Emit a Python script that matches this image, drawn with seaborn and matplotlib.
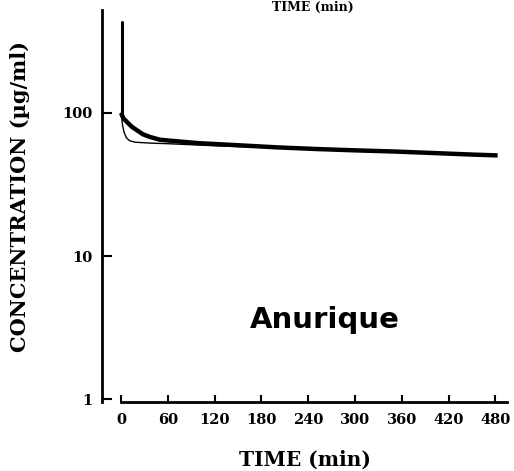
import numpy as np
import pandas as pd
import matplotlib
matplotlib.use("Agg")
import matplotlib.pyplot as plt
import seaborn as sns

# Data
thick_t = [0, 3, 8, 14, 20, 28, 37, 50, 70, 100, 150, 200, 250, 300, 350, 400, 450, 483]
thick_c = [100, 92, 86, 80, 76, 71, 68, 65, 63.5, 61.5, 59.5, 57.5, 56, 54.8, 53.8, 52.5, 51.2, 50.5]
thin_t = [0, 2, 4, 7, 11, 18, 28, 40, 60, 120, 240, 360, 480]
thin_c = [100, 82, 73, 67, 64, 62.5, 62, 61.5, 61, 59, 56, 53, 50]
spike_t = [1.5, 1.5]
spike_c = [100, 433]
x_ticks = [0, 60, 120, 180, 240, 300, 360, 420, 480]
x_tick_labels = ["0", "60", "120", "180", "240", "300", "360", "420", "480"]
y_ticks = [1, 10, 100]
y_tick_labels = ["1", "10", "100"]

sns.set_theme(style="ticks")
plt.rcParams["font.family"] = ["DejaVu Serif"]

fig = plt.figure(figsize=(5.14, 4.71), dpi=100)
ax = fig.add_axes([102/514, 1 - 402/471, (507 - 102)/514, (402 - 10)/471])

thin_df = pd.DataFrame({"t": thin_t, "c": thin_c})
thick_df = pd.DataFrame({"t": thick_t, "c": thick_c})
spike_df = pd.DataFrame({"t": spike_t, "c": spike_c})

sns.lineplot(data=thin_df, x="t", y="c", ax=ax, color="black", lw=1.0,
             estimator=None, sort=False)
sns.lineplot(data=thick_df, x="t", y="c", ax=ax, color="black", lw=3.2,
             estimator=None, sort=False, solid_capstyle="butt")
sns.lineplot(data=spike_df, x="t", y="c", ax=ax, color="black", lw=2.2,
             estimator=None, sort=False)

ax.set_yscale("log")
ax.set_ylim(0.953, 525)
ax.set_xlim(-24.4, 495)

ax.set_xticks(x_ticks)
ax.set_xticklabels(x_tick_labels)
ax.set_yticks(y_ticks)
ax.set_yticklabels(y_tick_labels)
ax.yaxis.set_minor_locator(matplotlib.ticker.NullLocator())

for lab in ax.get_xticklabels() + ax.get_yticklabels():
    lab.set_fontweight("bold")
    lab.set_fontsize(10.5)
    lab.set_family("DejaVu Serif")

ax.tick_params(axis="x", direction="in", length=5, width=1.5, pad=8, colors="black")
ax.tick_params(axis="y", direction="in", length=7, width=1.5, pad=7, colors="black")

sns.despine(ax=ax)
ax.spines["left"].set_linewidth(2)
ax.spines["bottom"].set_linewidth(2)
ax.spines["left"].set_color("black")
ax.spines["bottom"].set_color("black")
ax.spines["bottom"].set_bounds(0, 495)

ax.set_xlabel("TIME (min)", fontsize=14.5, fontweight="bold", labelpad=16, color="black")
ax.set_ylabel("CONCENTRATION (\u00b5g/ml)", fontsize=15, fontweight="bold", color="black")
ax.yaxis.set_label_coords(-0.178, 0.523)

fig.text(324.5/514, 1 - 328/471, "Anurique", family="DejaVu Sans", fontweight="bold",
         fontsize=21, ha="center", va="baseline", color="black")
fig.text(313/514, 1 - 1/471, "TIME (min)", fontsize=9, fontweight="bold",
         ha="center", va="top", color="black")

fig.savefig("out.png", dpi=100, facecolor="white")
